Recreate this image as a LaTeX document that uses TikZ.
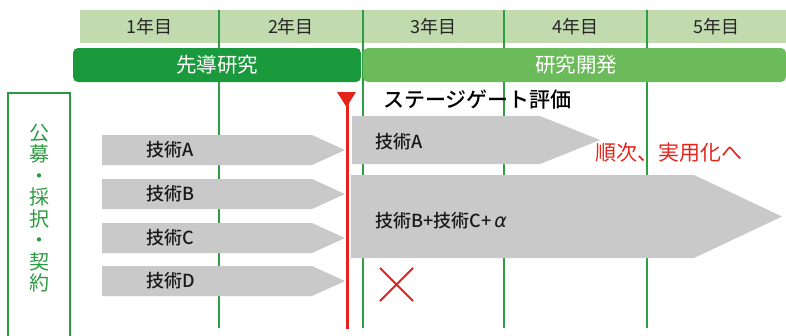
\documentclass[tikz,border=0pt]{standalone}
\usepackage{fontspec}
\newfontfamily\jp{Noto Sans CJK JP}
\newfontfamily\jpm{Noto Sans CJK JP Medium}
\newfontfamily\dejavu{DejaVu Sans}
\definecolor{hdrgreen}{HTML}{C1DAAE}
\definecolor{linegreen}{HTML}{2E9E45}
\definecolor{dkgreen}{HTML}{1A9A3C}
\definecolor{ltgreen}{HTML}{6BBB5A}
\definecolor{boxgreen}{HTML}{2A9A40}
\definecolor{agray}{HTML}{C8C9C8}
\definecolor{gred}{HTML}{E5231B}
\tikzset{
  gline/.style={draw=linegreen, line width=1.3pt},
  hdrtext/.style={font=\jp\fontsize{18}{20}\selectfont, text=black!85},
  bartext/.style={font=\jp\fontsize{20.5}{24}\selectfont, text=white},
  techarrow/.style={fill=agray},
  techlabel/.style={font=\jpm\fontsize{18}{20}\selectfont, text=black!90, anchor=west, inner sep=0pt},
  redmark/.style={draw=gred, line width=2pt},
}
\begin{document}
\begin{tikzpicture}[x=1pt,y=-1pt]
\useasboundingbox (0,0) rectangle (786,335);
% header band
\fill[hdrgreen] (80,10) rectangle (786,43);
\foreach \xx in {219,363,504,647} \draw[gline] (\xx,10) -- (\xx,328);
\node[hdrtext] (y1) at (149.5,27) {1年目};
\node[hdrtext] (y2) at (291,27) {2年目};
\node[hdrtext] (y3) at (433.5,27) {3年目};
\node[hdrtext] (y4) at (575.5,27) {4年目};
\node[hdrtext] (y5) at (716.5,27) {5年目};
% phase bars
\fill[dkgreen, rounded corners=5pt] (73,48) rectangle (361,82);
\node[bartext] (pre) at (217,65) {先導研究};
\fill[ltgreen, rounded corners=5pt] (363,48) rectangle (786,82);
\node[bartext] (rd) at (576,65) {研究開発};
% left box
\draw[draw=boxgreen, line width=1.8pt] (8,345) -- (8,93) -- (70,93) -- (70,345);
\node[font=\jp\fontsize{20}{21.5}\selectfont, text=boxgreen, align=center, inner sep=0pt] (kobo) at (39,208)
  {公\\募\\・\\採\\択\\・\\契\\約};
% left arrows
\foreach \t/\n in {135/A,179/B,223/C,266/D}{
  \fill[techarrow] (102,\t) -- (312,\t) -- (345,\t+15) -- (312,\t+30) -- (102,\t+30) -- cycle;
  \node[techlabel] (L\n) at (146,\t+15) {技術\n};
}
% right arrows
\fill[techarrow] (352,116) -- (540,116) -- (600,140) -- (540,164) -- (352,164) -- cycle;
\node[techlabel] (RA) at (375,142) {技術A};
\fill[techarrow] (351,175) -- (694,175) -- (782,216.5) -- (694,258) -- (351,258) -- cycle;
\node[techlabel] (RBC) at (375,221) {技術B+技術C+\,{\dejavu\itshape\fontsize{19}{20}\selectfont α}};
% stage gate
\draw[draw=gred, line width=3pt] (347,100) -- (347,329);
\fill[gred] (337,92) -- (356,92) -- (346.5,107) -- cycle;
\node[font=\jpm\fontsize{21}{24}\selectfont, anchor=west, inner sep=0pt] (sg) at (383,100) {ステージゲート評価};
\node[font=\jp\fontsize{21}{24}\selectfont, text=gred, anchor=west, inner sep=0pt] (jitsu) at (595,153) {順次、実用化へ};
% cross
\draw[redmark] (380,268) -- (413,301) (380,301) -- (413,268);
\end{tikzpicture}
\end{document}
